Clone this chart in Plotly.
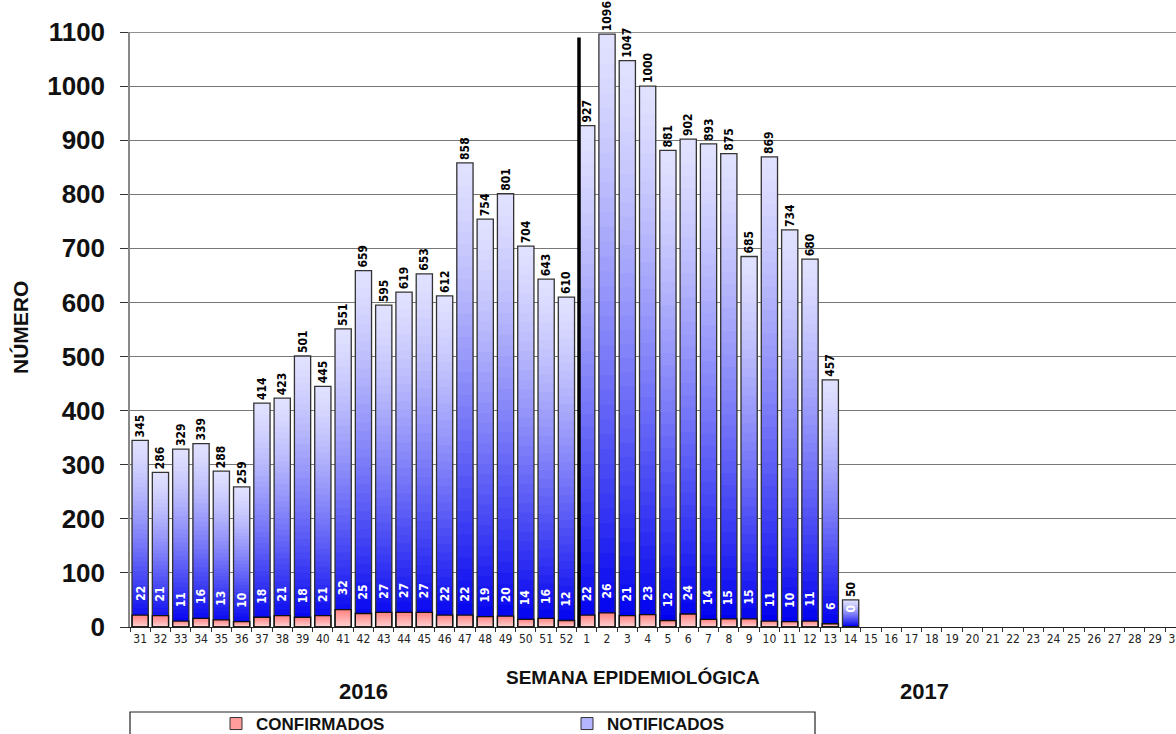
import plotly.graph_objects as go

# ---------------- data ----------------
weeks = [str(w) for w in range(31, 53)] + [str(w) for w in range(1, 31)]
notificados = [345, 286, 329, 339, 288, 259, 414, 423, 501, 445, 551, 659, 595, 619,
               653, 612, 858, 754, 801, 704, 643, 610,
               927, 1096, 1047, 1000, 881, 902, 893, 875, 685, 869, 734, 680, 457, 50]
confirmados = [22, 21, 11, 16, 13, 10, 18, 21, 18, 21, 32, 25, 27, 27,
               27, 22, 22, 19, 20, 14, 16, 12,
               22, 26, 21, 23, 12, 24, 14, 15, 15, 11, 10, 11, 6, 0]
y_ticks = list(range(0, 1101, 100))
years = ["2016", "2017"]
series_names = ["CONFIRMADOS", "NOTIFICADOS"]

x_data = weeks[:len(notificados)]

# ---------------- geometry (screen pixels; body margin removed below) ----------------
W, H = 1176, 734
PL, PT, PR, PB = 130, 32, 1176, 627          # plot area
ML, MT, MR, MB = PL, PT, W - PR, H - PB
PW, PH = PR - PL, PB - PT


def px(xs):
    return (xs - PL) / PW


def py(ys):
    return (PB - ys) / PH


def shade(c1, c2, t):
    return "rgb(%d,%d,%d)" % tuple(round(a + (b - a) * t) for a, b in zip(c1, c2))


NARROW = "Liberation Sans Narrow, Arial Narrow, DejaVu Sans Condensed, sans-serif"
ARIAL = "Liberation Sans, Arial, sans-serif"

fig = go.Figure()

# invisible trace so that every week category exists on the axis
fig.add_trace(go.Scatter(x=weeks, y=[None] * len(weeks), mode="markers",
                         showlegend=False, hoverinfo="skip"))

BAR_W = 0.8

# blue gradient (NOTIFICADOS): layered bars, light top -> deep blue bottom
NB = 40
blue_top, blue_bot = (224, 224, 255), (0, 0, 240)
for k in range(NB):
    frac = 1 - k / NB
    t = (k / (NB - 1)) ** 1.3
    fig.add_trace(go.Bar(
        x=x_data, y=[v * frac for v in notificados], width=BAR_W,
        marker=dict(color=shade(blue_top, blue_bot, t), line=dict(width=0)),
        showlegend=False, hoverinfo="skip"))

# red gradient (CONFIRMADOS)
NR = 8
red_top, red_bot = (255, 135, 135), (255, 205, 205)
for k in range(NR):
    frac = 1 - k / NR
    fig.add_trace(go.Bar(
        x=x_data, y=[v * frac for v in confirmados], width=BAR_W,
        marker=dict(color=shade(red_top, red_bot, k / (NR - 1)), line=dict(width=0)),
        showlegend=False, hoverinfo="skip"))

# outlines + value labels
fig.add_trace(go.Bar(
    x=x_data, y=notificados, width=BAR_W,
    marker=dict(color="rgba(0,0,0,0)", line=dict(color="#333333", width=1.3)),
    text=[str(v) for v in notificados], textposition="outside", textangle=-90,
    constraintext="none", cliponaxis=False,
    textfont=dict(family=NARROW, size=12, color="black", weight="bold"),
    showlegend=False, hoverinfo="skip"))
fig.add_trace(go.Bar(
    x=x_data, y=confirmados, width=BAR_W,
    marker=dict(color="rgba(0,0,0,0)", line=dict(color="#111111", width=1.3)),
    showlegend=False, hoverinfo="skip"))

# legend-only entries
fig.add_trace(go.Bar(x=[None], y=[None], name=series_names[0],
                     marker=dict(color="#ff9c9c", line=dict(color="#333", width=1))))
fig.add_trace(go.Bar(x=[None], y=[None], name=series_names[1],
                     marker=dict(color="#b4b4ff", line=dict(color="#333", width=1))))

# confirmados labels (white, rotated) above the red part; numeric x = category index
for i, c in enumerate(confirmados):
    fig.add_annotation(x=i, y=c, xref="x", yref="y", text=str(c), textangle=-90,
                       showarrow=False, xanchor="center", yanchor="bottom", yshift=12,
                       font=dict(family=NARROW, size=12, color="white", weight="bold"))

# axis titles and year labels
fig.add_annotation(xref="paper", yref="paper", x=px(633), y=py(677), text="SEMANA EPIDEMIOLÓGICA",
                   showarrow=False, xanchor="center", yanchor="middle",
                   font=dict(family=ARIAL, size=19, color="#111", weight="bold"))
fig.add_annotation(xref="paper", yref="paper", x=px(20), y=py(328), text="NÚMERO", textangle=-90,
                   showarrow=False, xanchor="center", yanchor="middle",
                   font=dict(family=ARIAL, size=21, color="#111", weight="bold"))
for label, xs in zip(years, [363, 924]):
    fig.add_annotation(xref="paper", yref="paper", x=px(xs), y=py(691), text=label,
                       showarrow=False, xanchor="center", yanchor="middle",
                       font=dict(family=ARIAL, size=22, color="#111", weight="bold"))

# separator line between years, top border, legend box
fig.add_shape(type="line", xref="x", yref="y", x0=21.62, x1=21.62, y0=0, y1=1090,
              line=dict(color="black", width=3.5))
fig.add_shape(type="line", xref="paper", yref="y", x0=0, x1=1, y0=1100, y1=1100,
              line=dict(color="#222", width=1.2))
fig.add_shape(type="rect", xref="paper", yref="paper", x0=px(130), x1=px(815),
              y0=py(712), y1=py(770), line=dict(color="#222", width=1.2), fillcolor="rgba(0,0,0,0)")

fig.update_layout(
    width=W, height=H, margin=dict(l=ML, r=MR, t=MT, b=MB, autoexpand=False),
    paper_bgcolor="white", plot_bgcolor="white",
    barmode="overlay",
    showlegend=True,
    legend=dict(orientation="h", x=px(216), y=py(706), xanchor="left", yanchor="top",
                entrywidth=306, entrywidthmode="pixels", bgcolor="rgba(0,0,0,0)",
                font=dict(family=ARIAL, size=17, color="#111", weight="bold"),
                itemclick=False, itemdoubleclick=False),
    xaxis=dict(type="category", categoryorder="array", categoryarray=weeks,
               range=[-0.5, 51.03], tickson="boundaries", ticks="outside", ticklen=4,
               tickcolor="#333", showline=True, linecolor="#222", linewidth=1.2,
               showgrid=False, zeroline=False, fixedrange=True, tickangle=0,
               tickfont=dict(family=NARROW, size=12, color="#222")),
    yaxis=dict(range=[0, 1100], tickmode="array", tickvals=y_ticks,
               ticks="outside", ticklen=8, tickcolor="#333", ticklabelstandoff=10,
               showline=True, linecolor="#888", linewidth=1.5,
               showgrid=True, gridcolor="#777", gridwidth=1, zeroline=False, fixedrange=True,
               tickfont=dict(family=ARIAL, size=26, color="#111", weight="bold")),
)

fig.write_html("out.html", config={"displayModeBar": False},
               post_script="document.body.style.margin='0px';")
